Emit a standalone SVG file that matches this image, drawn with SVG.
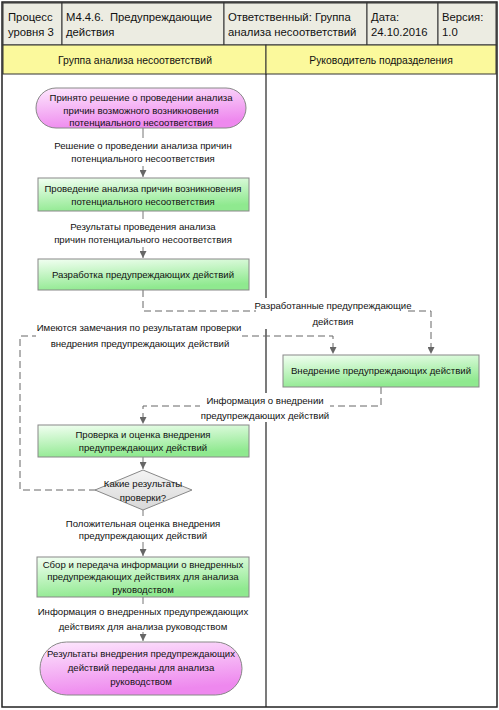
<svg xmlns="http://www.w3.org/2000/svg" width="499" height="710" viewBox="0 0 499 710">
<defs>
<linearGradient id="gGreen" x1="0" y1="0" x2="0.3" y2="1">
<stop offset="0" stop-color="#f2fff2"/>
<stop offset="1" stop-color="#8fe98f"/>
</linearGradient>
<linearGradient id="gPink" x1="0" y1="0" x2="0.3" y2="1">
<stop offset="0" stop-color="#fde8fd"/>
<stop offset="1" stop-color="#ee88ee"/>
</linearGradient>
<linearGradient id="gGray" x1="0" y1="0" x2="0" y2="1">
<stop offset="0" stop-color="#f4f4f4"/>
<stop offset="1" stop-color="#d8d8d8"/>
</linearGradient>
<marker id="arr" viewBox="0 0 8 8" refX="8" refY="4" markerWidth="7" markerHeight="7" orient="auto" markerUnits="userSpaceOnUse">
<path d="M0,0 L8,4 L0,8 z" fill="#666"/>
</marker>
<style>
text{font-family:"Liberation Sans",Arial,sans-serif;font-size:9.6px;fill:#111;}
.hd{font-size:11.3px;}
.ln{font-size:10.4px;}
.c{text-anchor:middle;}
.cell{fill:#ecece2;stroke:#333;stroke-width:1;}
.lane{fill:#fbf99c;stroke:#333;stroke-width:1;}
.box{fill:url(#gGreen);stroke:#888;stroke-width:1;}
.pill{fill:url(#gPink);stroke:#888;stroke-width:1;}
.dia{fill:url(#gGray);stroke:#888;stroke-width:1;}
.sol{fill:none;stroke:#777;stroke-width:1;}
.dsh{fill:none;stroke:#666;stroke-width:1;stroke-dasharray:7,4;}
.bg{fill:#ffffff;}
</style>
</defs>
<rect x="0" y="0" width="499" height="710" fill="#ffffff"/>
<g id="header">
<rect class="cell" x="3" y="3" width="59" height="42"/>
<rect class="cell" x="62" y="3" width="162" height="42"/>
<rect class="cell" x="224" y="3" width="143" height="42"/>
<rect class="cell" x="367" y="3" width="71" height="42"/>
<rect class="cell" x="438" y="3" width="58" height="42"/>
<text class="hd" x="8" y="21">Процесс</text>
<text class="hd" x="8" y="36">уровня 3</text>
<text class="hd" x="66" y="21" xml:space="preserve">M4.4.6.  Предупреждающие</text>
<text class="hd" x="66" y="36">действия</text>
<text class="hd" x="228" y="21">Ответственный: Группа</text>
<text class="hd" x="228" y="36">анализа несоответствий</text>
<text class="hd" x="371" y="21">Дата:</text>
<text class="hd" x="371" y="36">24.10.2016</text>
<text class="hd" x="442" y="21">Версия:</text>
<text class="hd" x="442" y="36">1.0</text>
</g>
<g id="lanes">
<rect class="lane" x="3" y="45" width="263" height="29"/>
<rect class="lane" x="266" y="45" width="230" height="29"/>
<text class="c ln" x="135" y="64">Группа анализа несоответствий</text>
<text class="c ln" x="381" y="64">Руководитель подразделения</text>
<line x1="266" y1="74" x2="266" y2="707" stroke="#222" stroke-width="1.2"/>
<rect x="2" y="2" width="495" height="705" fill="none" stroke="#222" stroke-width="1.5"/>
</g>
<g id="connectors">
<path class="sol" d="M143,128 V177" marker-end="url(#arr)"/>
<path class="sol" d="M143,211 V258" marker-end="url(#arr)"/>
<path class="dsh" d="M143,290 V311 H431 V354" marker-end="url(#arr)"/>
<path class="dsh" d="M96,490 H20 V336 H333 V354" marker-end="url(#arr)"/>
<path class="dsh" d="M381,387 V406 H143 V424" marker-end="url(#arr)"/>
<path class="sol" d="M143,457 V469" marker-end="url(#arr)"/>
<path class="sol" d="M143,510 V556" marker-end="url(#arr)"/>
<path class="sol" d="M143,597 V641" marker-end="url(#arr)"/>
<rect class="bg" x="55" y="138" width="176" height="28"/>
<text class="c" x="143" y="149">Решение о проведении анализа причин</text>
<text class="c" x="143" y="162">потенциального несоответствия</text>
<rect class="bg" x="55" y="219" width="176" height="28"/>
<text class="c" x="143" y="230">Результаты проведения анализа</text>
<text class="c" x="143" y="243">причин потенциального несоответствия</text>
<rect class="bg" x="256" y="298" width="152" height="31"/>
<text class="c" x="333" y="309">Разработанные предупреждающие</text>
<text class="c" x="333" y="325">действия</text>
<rect class="bg" x="36" y="320" width="206" height="30"/>
<text class="c" x="139" y="331">Имеются замечания по результатам проверки</text>
<text class="c" x="140" y="347">внедрения предупреждающих действий</text>
<rect class="bg" x="200" y="393" width="130" height="29"/>
<text class="c" x="265" y="404">Информация о внедрении</text>
<text class="c" x="265" y="419">предупреждающих действий</text>
<rect class="bg" x="66" y="516" width="154" height="26"/>
<text class="c" x="143" y="527">Положительная оценка внедрения</text>
<text class="c" x="143" y="539">предупреждающих действий</text>
<rect class="bg" x="38" y="604" width="210" height="28"/>
<text class="c" x="143" y="615">Информация о внедренных предупреждающих</text>
<text class="c" x="143" y="630">действиях для анализа руководством</text>
</g>
<g id="n1">
<rect class="pill" x="36" y="88" width="210" height="40" rx="20"/>
<text class="c" x="141" y="101">Принято решение о проведении анализа</text>
<text class="c" x="141" y="114">причин возможного возникновения</text>
<text class="c" x="141" y="126">потенциального несоответствия</text>
</g>
<g id="n2">
<rect class="box" x="38" y="178" width="211" height="33"/>
<text class="c" x="143" y="192">Проведение анализа причин возникновения</text>
<text class="c" x="143" y="205">потенциального несоответствия</text>
</g>
<g id="n3">
<rect class="box" x="38" y="259" width="211" height="31"/>
<text class="c" x="143" y="278">Разработка предупреждающих действий</text>
</g>
<g id="n4">
<rect class="box" x="283" y="355" width="196" height="32"/>
<text class="c" x="381" y="374">Внедрение предупреждающих действий</text>
</g>
<g id="n5">
<rect class="box" x="38" y="425" width="211" height="32"/>
<text class="c" x="143" y="438">Проверка и оценка внедрения</text>
<text class="c" x="143" y="451">предупреждающих действий</text>
</g>
<g id="n6">
<polygon class="dia" points="143,470 192,490 143,510 95,490"/>
<text class="c" x="143" y="487">Какие результаты</text>
<text class="c" x="143" y="501">проверки?</text>
</g>
<g id="n7">
<rect class="box" x="37" y="557" width="212" height="40"/>
<text class="c" x="143" y="568">Сбор и передача информации о внедренных</text>
<text class="c" x="143" y="580">предупреждающих действиях для анализа</text>
<text class="c" x="143" y="593">руководством</text>
</g>
<g id="n8">
<rect class="pill" x="40" y="642" width="202" height="53" rx="26.5"/>
<text class="c" x="141" y="657">Результаты внедрения предупреждающих</text>
<text class="c" x="141" y="671">действий переданы для анализа</text>
<text class="c" x="141" y="685">руководством</text>
</g>
</svg>
